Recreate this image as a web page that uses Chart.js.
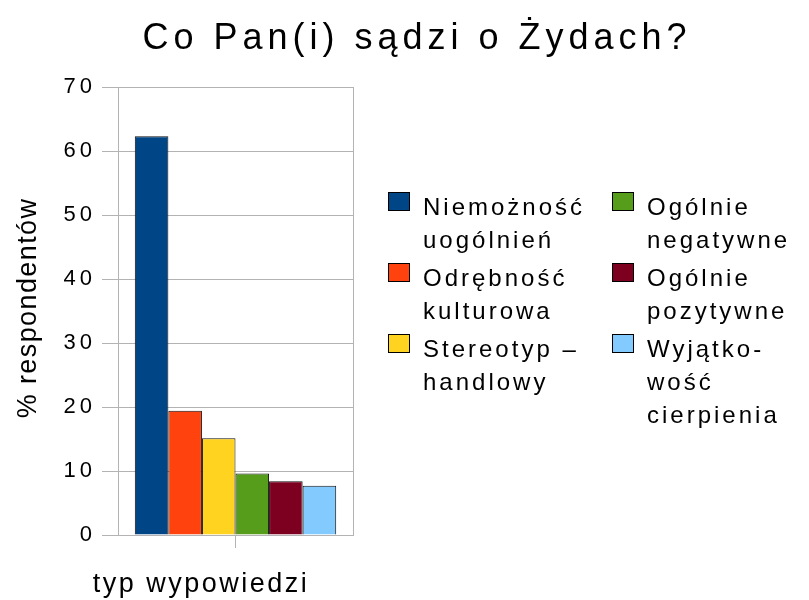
<!DOCTYPE html>
<html lang="pl">
<head>
<meta charset="UTF-8" />
<title>Co Pan(i) sądzi o Żydach?</title>
<script src="https://cdn.jsdelivr.net/npm/chart.js"></script>
<style>
  html, body { margin: 0; padding: 0; background: #fff; }
  #wrap { width: 809px; height: 600px; }
</style>
</head>
<body>
<div id="wrap"><canvas id="chart" width="809" height="600"></canvas></div>
<script>
const categories = [''];
const seriesNames = [
  ['Niemożność', 'uogólnień'],
  ['Odrębność', 'kulturowa'],
  ['Stereotyp –', 'handlowy'],
  ['Ogólnie', 'negatywne'],
  ['Ogólnie', 'pozytywne'],
  ['Wyjątko-', 'wość', 'cierpienia']
];
const seriesValues = [62.3, 19.4, 15.1, 9.6, 8.4, 7.7];
const seriesColors = ['#004586', '#ff420e', '#ffd320', '#579d1c', '#7e0021', '#83caff'];
const yTicks = [0, 10, 20, 30, 40, 50, 60, 70];
const chartTitle = 'Co Pan(i) sądzi o Żydach?';
const xTitle = 'typ wypowiedzi';
const yTitle = '% respondentów';

const FONT = '"Liberation Sans", Arial, sans-serif';
const GRID = '#b3b3b3';

// the original export draws its text rather wide, so space the letters out a bit
const spacingPlugin = {
  id: 'spacing',
  beforeUpdate(chart) { chart.ctx.letterSpacing = '4px'; },
  beforeDraw(chart) { chart.ctx.letterSpacing = '4px'; }
};

// frame around the plot (left/right edges)
const framePlugin = {
  id: 'frame',
  beforeDatasetsDraw(chart) {
    const { ctx, chartArea: a } = chart;
    ctx.save();
    ctx.strokeStyle = GRID;
    ctx.lineWidth = 1;
    ctx.strokeRect(a.left + 0.5, a.top + 0.5, a.right - a.left, a.bottom - a.top);
    ctx.restore();
  }
};

// chart title and axis titles
const textPlugin = {
  id: 'texts',
  afterDraw(chart) {
    const ctx = chart.ctx;
    ctx.save();
    ctx.fillStyle = '#000';
    ctx.textBaseline = 'alphabetic';
    ctx.textAlign = 'center';

    ctx.font = '36px ' + FONT;
    ctx.letterSpacing = '5px';
    ctx.fillText(chartTitle, 417, 49);

    ctx.font = '27px ' + FONT;
    ctx.letterSpacing = '2.5px';
    ctx.fillText(xTitle, 201, 592);

    ctx.letterSpacing = '1.4px';
    ctx.translate(36, 308);
    ctx.rotate(-Math.PI / 2);
    ctx.fillText(yTitle, 0, 0);
    ctx.restore();
  }
};

// two-column legend with wrapped names
const legendPlugin = {
  id: 'sideLegend',
  afterDraw(chart) {
    const ctx = chart.ctx;
    const cols = [388, 612];
    const rowTop = [192, 263, 334];
    const lineH = 33;
    ctx.save();
    ctx.font = '24px ' + FONT;
    ctx.letterSpacing = '3px';
    ctx.textBaseline = 'alphabetic';
    ctx.textAlign = 'left';
    chart.data.datasets.forEach((ds, i) => {
      const x = cols[Math.floor(i / 3)];
      const y = rowTop[i % 3];
      ctx.fillStyle = ds.backgroundColor;
      ctx.fillRect(x, y, 22, 19);
      ctx.strokeStyle = '#000';
      ctx.lineWidth = 1;
      ctx.strokeRect(x + 0.5, y + 0.5, 21, 18);
      ctx.fillStyle = '#000';
      seriesNames[i].forEach((line, k) => {
        ctx.fillText(line, x + 35, y + 23 + k * lineH);
      });
    });
    ctx.restore();
  }
};

new Chart(document.getElementById('chart'), {
  type: 'bar',
  data: {
    labels: categories,
    datasets: seriesValues.map((v, i) => ({
      label: seriesNames[i].join(' '),
      data: [v],
      backgroundColor: seriesColors[i],
      borderColor: '#111',
      borderWidth: 1,
      barPercentage: 1,
      categoryPercentage: 0.857
    }))
  },
  options: {
    responsive: false,
    animation: false,
    layout: { padding: { left: 0, right: 456, top: 87, bottom: 0 } },
    plugins: {
      legend: { display: false },
      tooltip: { enabled: false },
      title: { display: false }
    },
    scales: {
      x: {
        grid: { display: true, drawOnChartArea: false, offset: false, color: GRID, tickLength: 13 },
        border: { display: false },
        ticks: { display: false },
        afterFit(scale) { scale.height = 65; }
      },
      y: {
        min: 0,
        max: 70,
        afterBuildTicks(scale) { scale.ticks = yTicks.map(v => ({ value: v })); },
        grid: { color: GRID, tickLength: 16 },
        border: { display: true, color: GRID },
        ticks: {
          color: '#000',
          padding: 6,
          font: { family: FONT, size: 22 }
        },
        afterFit(scale) { scale.width = 118; }
      }
    }
  },
  plugins: [spacingPlugin, framePlugin, textPlugin, legendPlugin]
});
</script>
</body>
</html>
